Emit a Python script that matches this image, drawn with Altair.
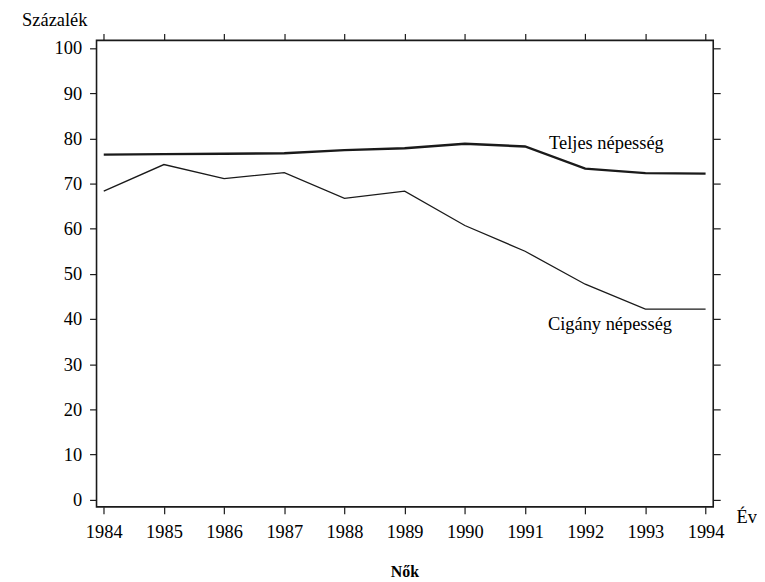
import altair as alt
import pandas as pd

years = [1984, 1985, 1986, 1987, 1988, 1989, 1990, 1991, 1992, 1993, 1994]
teljes = [76.4, 76.5, 76.6, 76.7, 77.4, 77.8, 78.8, 78.2, 73.3, 72.3, 72.2]
cigany = [68.3, 74.2, 71.1, 72.4, 66.7, 68.3, 60.7, 55.0, 47.7, 42.2, 42.2]
series_names = ["Teljes népesség", "Cigány népesség"]
label_x = [1991.4, 1991.38]
label_y = [77.6, 37.55]
y_ticks = list(range(0, 101, 10))
y_title = "Százalék"
x_title = "Év"
panel_title = "Nők"

FONT = "Liberation Serif"
INK = "#1a1a1a"
FS = 18.5

df_t = pd.DataFrame({"year": years, "value": teljes})
df_c = pd.DataFrame({"year": years, "value": cigany})
df_lab = pd.DataFrame({"year": label_x, "value": label_y, "name": series_names})
df_title = pd.DataFrame({"t": [panel_title]})

xs = alt.Scale(domain=[1983.88, 1994.127], nice=False, zero=False)
ys = alt.Scale(domain=[-1.6, 101.7], nice=False, zero=False)

common = dict(domain=False, grid=False, tickSize=7, tickColor=INK, tickWidth=1.2,
              labelFont=FONT, labelFontSize=FS, labelColor="black",
              labelFlush=False, labelOverlap=False, labelBound=False)

bottom_axis = alt.Axis(orient="bottom", values=years, format="d", labelPadding=9,
                       title=x_title, titleFont=FONT, titleFontSize=FS,
                       titleFontWeight="normal", titleColor="black",
                       titleAngle=0, titleAlign="left", titleBaseline="alphabetic",
                       titleX=643, titleY=15.3, **common)
left_axis = alt.Axis(orient="left", values=y_ticks, labelPadding=8,
                     title=y_title, titleFont=FONT, titleFontSize=FS,
                     titleFontWeight="normal", titleColor="black",
                     titleAngle=0, titleAlign="left", titleBaseline="alphabetic",
                     titleX=-75.3, titleY=-15.3, **common)
top_axis = alt.Axis(orient="top", values=years, labels=False, title=None,
                    domain=False, grid=False, tickSize=7, tickColor=INK, tickWidth=1.2)
right_axis = alt.Axis(orient="right", values=y_ticks, labels=False, title=None,
                      domain=False, grid=False, tickSize=7, tickColor=INK, tickWidth=1.2)

line_t = alt.Chart(df_t).mark_line(color=INK, strokeWidth=2.4).encode(
    x=alt.X("year:Q", scale=xs, axis=bottom_axis),
    y=alt.Y("value:Q", scale=ys, axis=left_axis),
)
line_c = alt.Chart(df_c).mark_line(color=INK, strokeWidth=1.3).encode(
    x=alt.X("year:Q", scale=xs, axis=None),
    y=alt.Y("value:Q", scale=ys, axis=None),
)
labels = alt.Chart(df_lab).mark_text(align="left", baseline="alphabetic", font=FONT,
                                     fontSize=FS, color="black").encode(
    x=alt.X("year:Q", scale=xs, axis=top_axis),
    y=alt.Y("value:Q", scale=ys, axis=right_axis),
    text="name:N",
)
title_txt = alt.Chart(df_title).mark_text(align="center", baseline="alphabetic", font=FONT,
                                          fontSize=16, fontWeight="bold", color="black").encode(
    x=alt.value(310), y=alt.value(540), text="t:N"
)

chart = alt.layer(line_t, line_c, labels, title_txt).resolve_scale(
    x="independent", y="independent"
).properties(
    width=620, height=469,
    autosize=alt.AutoSizeParams(type="none"),
    padding={"left": 89, "top": 31, "right": 44, "bottom": 72},
    background="white",
).configure_view(stroke=INK, strokeWidth=1.6)

chart.save("out.html", embed_options={"renderer": "svg", "actions": False})
